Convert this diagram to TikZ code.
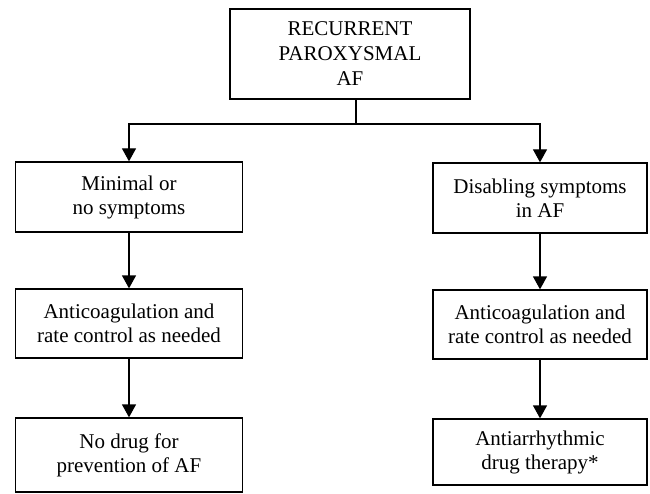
\documentclass[tikz,border=0pt]{standalone}
\usepackage{fontspec}
\setmainfont{Liberation Serif}
\usetikzlibrary{arrows.meta}
\begin{document}
\begin{tikzpicture}[x=1pt,y=-1pt,
  box/.style={draw, line width=1.3pt, align=center, inner sep=0pt, font=\fontsize{21}{24}\selectfont},
  lbox/.style={box, minimum width=227pt},
  rbox/.style={box, minimum width=214pt},
  arr/.style={line width=1.3pt, -{Triangle[length=13pt,width=14pt]}},
  ln/.style={line width=1.3pt}]
\useasboundingbox (0,0) rectangle (650,494);
\node[box, minimum width=240pt, minimum height=90pt, font=\fontsize{21}{25}\selectfont] (top) at (350,54) {RECURRENT\\PAROXYSMAL\\AF};
\node[lbox, minimum height=70pt] (l1) at (129,197) {Minimal or\\no symptoms};
\node[lbox, minimum height=69pt] (l2) at (129,323.5) {Anticoagulation and\\rate control as needed};
\node[lbox, minimum height=74pt] (l3) at (129,455) {No drug for\\prevention of AF};
\node[rbox, minimum height=70pt] (r1) at (540,198) {Disabling symptoms\\in AF};
\node[rbox, minimum height=69pt] (r2) at (540,324.5) {Anticoagulation and\\rate control as needed};
\node[rbox, minimum height=66pt] (r3) at (540,452) {Antiarrhythmic\\drug therapy*};
\coordinate (split) at ([xshift=6pt]top.south |- 0,124);
\draw[ln] ([xshift=6pt]top.south) -- (split);
\draw[arr] (split) -| (l1.north);
\draw[arr] (split) -| (r1.north);
\draw[arr] (l1) -- (l2);
\draw[arr] (l2) -- (l3);
\draw[arr] (r1) -- (r2);
\draw[arr] (r2) -- (r3);
\end{tikzpicture}
\end{document}
